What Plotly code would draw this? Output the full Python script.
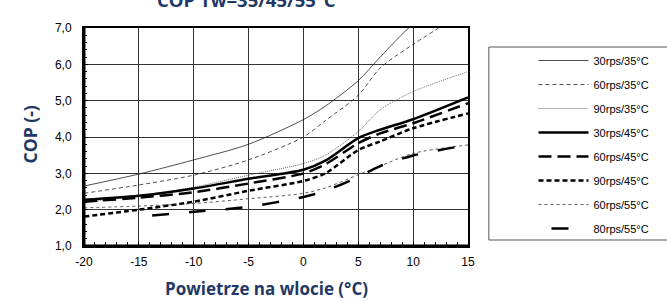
import plotly.graph_objects as go

# ---- data ----
temps = [-20, -15, -10, -5, 0, 2, 5, 7, 10, 15]
temps_80 = [-15, -10, -5, 0, 2, 5, 7, 10, 15]

cop_30rps_35 = [2.65, 2.98, 3.37, 3.80, 4.48, 4.85, 5.55, 6.20, 7.10, 8.00]
cop_60rps_35 = [2.45, 2.68, 2.95, 3.37, 4.00, 4.45, 5.15, 5.90, 6.55, 7.50]
cop_90rps_35 = [2.20, 2.38, 2.62, 2.95, 3.27, 3.50, 4.15, 4.75, 5.25, 5.80]
cop_30rps_45 = [2.27, 2.38, 2.58, 2.85, 3.10, 3.35, 3.97, 4.20, 4.49, 5.09]
cop_60rps_45 = [2.22, 2.33, 2.48, 2.72, 3.00, 3.25, 3.83, 4.10, 4.38, 4.93]
cop_90rps_45 = [1.81, 2.00, 2.22, 2.52, 2.79, 3.00, 3.64, 3.88, 4.24, 4.65]
cop_60rps_55 = [2.05, 2.10, 2.17, 2.30, 2.45, 2.60, 2.96, 3.20, 3.55, 3.78]
cop_80rps_55 = [1.81, 1.94, 2.08, 2.35, 2.52, 2.90, 3.20, 3.49, 3.78]

series_names = ["30rps/35°C", "60rps/35°C", "90rps/35°C", "30rps/45°C",
                "60rps/45°C", "90rps/45°C", "60rps/55°C", "80rps/55°C"]

x_tick_vals = [-20, -15, -10, -5, 0, 5, 10, 15]
x_tick_text = ["-20", "-15", "-10", "-5", "0", "5", "10", "15"]
y_tick_vals = [1, 2, 3, 4, 5, 6, 7]
y_tick_text = ["1,0", "2,0", "3,0", "4,0", "5,0", "6,0", "7,0"]

title_text = "COP Tw=35/45/55°C"
x_title = "Powietrze na wlocie (°C)"
y_title = "COP (-)"

# ---- styles ----
series_x = [temps, temps, temps, temps, temps, temps, temps, temps_80]
series_y = [cop_30rps_35, cop_60rps_35, cop_90rps_35, cop_30rps_45,
            cop_60rps_45, cop_90rps_45, cop_60rps_55, cop_80rps_55]
styles = [
    dict(color="#222222", width=0.8, dash="solid"),
    dict(color="#222222", width=0.8, dash="4px,3px"),
    dict(color="#444444", width=0.8, dash="1px,1px"),
    dict(color="black", width=2.5, dash="solid"),
    dict(color="black", width=2.5, dash="13px,6px"),
    dict(color="black", width=2.5, dash="5px,3px"),
    dict(color="#333333", width=0.8, dash="3px,3px"),
    dict(color="black", width=2.5, dash="0px,13px,17px,7px"),
]

navy = "#1F3864"
fig = go.Figure()
for i, (nm, xs, ys, st) in enumerate(zip(series_names, series_x, series_y, styles)):
    fig.add_trace(go.Scatter(
        x=xs, y=ys, name=nm, mode="lines",
        line=dict(shape="spline", smoothing=0.8, **st),
        legendgroup=f"g{i}",
    ))

W, H = 667, 301
PL, PR, PT, PB = 84, 471, 28, 246      # plot area in page pixels
L, R, T, B = PL, W - PR, PT, H - PB
pw, ph = PR - PL, PB - PT

def px_x(p):
    return (p - PL) / pw

def px_y(p):
    return (PB - p) / ph

fig.update_layout(
    width=W, height=H,
    margin=dict(l=L, r=R, t=T, b=B),
    paper_bgcolor="white", plot_bgcolor="white",
    font=dict(family="Liberation Sans, Arial", size=12, color="black"),
    showlegend=True,
    legend=dict(x=px_x(537), y=px_y(46), xanchor="left", yanchor="top",
                font=dict(family="Liberation Sans, Arial", size=11, color="black"),
                tracegroupgap=5, itemwidth=50, bgcolor="rgba(0,0,0,0)", borderwidth=0),
    xaxis=dict(range=[-20, 15], tickvals=x_tick_vals, ticktext=x_tick_text,
               showgrid=True, gridcolor="#333333", gridwidth=1, zeroline=False,
               showline=True, linecolor="black", linewidth=2, mirror=True,
               ticks="inside", ticklen=4, tickcolor="black",
               minor=dict(dtick=1, ticks="inside", ticklen=4, tickcolor="black", showgrid=False),
               tickfont=dict(size=12), ticklabelstandoff=4),
    yaxis=dict(range=[1, 7], tickvals=y_tick_vals, ticktext=y_tick_text,
               showgrid=True, gridcolor="#333333", gridwidth=1, zeroline=False,
               showline=True, linecolor="black", linewidth=2, mirror=True,
               ticks="inside", ticklen=4, tickcolor="black",
               minor=dict(dtick=0.2, ticks="inside", ticklen=3, tickcolor="black", showgrid=False),
               tickfont=dict(size=12), ticklabelstandoff=8),
    shapes=[
        dict(type="rect", xref="paper", yref="paper",
             x0=px_x(492), x1=px_x(675), y0=px_y(240), y1=px_y(47),
             line=dict(color="#555555", width=1)),
        dict(type="line", xref="paper", yref="paper", x0=0, x1=0, y0=0, y1=1,
             line=dict(color="black", width=3)),
        dict(type="line", xref="paper", yref="paper", x0=0, x1=1, y0=0, y1=0,
             line=dict(color="black", width=3)),
    ],
    annotations=[
        dict(text=title_text, xref="paper", yref="paper", x=px_x(248), y=px_y(-1),
             xanchor="center", yanchor="middle", showarrow=False,
             font=dict(family="Open Sans", size=18.5, color=navy, weight="bold")),
        dict(text=x_title, xref="paper", yref="paper", x=px_x(268), y=px_y(288),
             xanchor="center", yanchor="middle", showarrow=False,
             font=dict(family="Open Sans", size=17, color=navy, weight="bold")),
        dict(text=y_title, xref="paper", yref="paper", x=px_x(30), y=px_y(134),
             xanchor="center", yanchor="middle", showarrow=False, textangle=-90,
             font=dict(family="Open Sans", size=17.5, color=navy, weight="bold")),
    ],
)

fig.write_html("out.html",
               config={"displayModeBar": False},
               post_script="document.body.style.margin='0';document.body.style.overflow='hidden';")
